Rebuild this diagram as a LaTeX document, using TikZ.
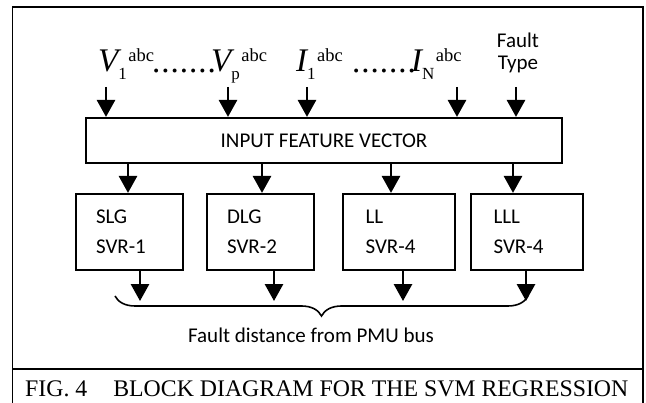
\documentclass[tikz,border=0pt]{standalone}
\usepackage{fontspec}
\setmainfont{Liberation Serif}
\newfontfamily\calibri{Carlito}
\usetikzlibrary{arrows.meta,decorations.pathreplacing,positioning}

% signal with phase superscript
\newcommand{\sig}[2]{{\fontsize{33}{33}\selectfont\itshape #1}\kern0pt\raisebox{-8pt}{\fontsize{17}{17}\selectfont #2}\kern1.5pt\raisebox{10pt}{\fontsize{18.5}{18.5}\selectfont abc}}
\newcommand{\dotrow}{.\kern1pt.\kern1pt.\kern1pt.\kern1pt.\kern1pt.\kern1pt.}

\tikzset{
  arr/.style={line width=2.8pt,-{Triangle[width=18pt,length=17pt]}},
  blk/.style={draw,line width=2.1pt,font=\calibri\fontsize{21}{30}\selectfont},
  svr/.style={blk,minimum height=76pt,text width=67pt,align=left,inner xsep=20pt,inner ysep=0pt},
  lbl/.style={anchor=base west,inner sep=0pt},
}

\begin{document}
\begin{tikzpicture}[x=1pt,y=-1pt]
\fill[white] (0,0) rectangle (646,403);
\useasboundingbox (0,0) rectangle (646,403);

% outer frame and caption line
\draw[line width=1.3pt] (12.5,403) -- (12.5,7) -- (643,7) -- (643,403);
\draw[line width=1.3pt] (12.5,369) -- (643,369);

% inputs
\node[lbl] (v1) at (98,72) {\sig{V}{1}};
\node[lbl,font=\fontsize{33}{33}\selectfont] (dots1) at (152,73) {\dotrow};
\node[lbl] (vp) at (211,72) {\sig{V}{p}};
\node[lbl] (i1) at (296,72) {\sig{I}{1}};
\node[lbl,font=\fontsize{33}{33}\selectfont] (dots2) at (352,73) {\dotrow};
\node[lbl] (iN) at (411,72) {\sig{I}{N}};
\node[anchor=base,inner sep=0pt,align=center,font=\calibri\fontsize{21}{22}\selectfont] (ftype) at (518,70) {Fault\\Type};

\node[blk,minimum width=476pt,minimum height=45pt] (ifv) at (324,140.5) {INPUT FEATURE VECTOR};

\foreach \x in {106,228,307,457,516} {
  \coordinate (top) at (\x,87);
  \draw[arr] (top) -- (top |- ifv.north);
}

% one regressor per fault type
\node[svr,minimum width=107pt] (slg) at (129.5,232) {SLG\\SVR-1};
\node[svr,minimum width=107pt] (dlg) at (260.5,232) {DLG\\SVR-2};
\node[svr,minimum width=112pt] (ll) at (399,232) {LL\\SVR-4};
\node[svr,minimum width=112pt] (lll) at (527,232) {LLL\\SVR-4};

\foreach \b/\dx in {slg/-1.5,dlg/1.5,ll/-8,lll/-14} {
  \coordinate (m) at ([xshift=\dx pt]\b.north);
  \draw[arr] (m |- ifv.south) -- (m);
}
\foreach \b/\dx in {slg/10.5,dlg/13.5,ll/4,lll/-1} {
  \coordinate (o) at ([xshift=\dx pt]\b.south);
  \draw[arr] (o) -- ++(0,30);
}

% output
\coordinate (bl) at (115,296);
\coordinate (br) at (528,296);
\draw[line width=1.6pt,decorate,decoration={brace,mirror,amplitude=20pt}] (bl) -- (br);
\node[anchor=base,inner sep=0pt,font=\calibri\fontsize{21}{21}\selectfont] (fdist) at (311,343) {Fault distance from PMU bus};

\node[anchor=base west,inner sep=0pt,font=\fontsize{23.8}{23.8}\selectfont] (cap) at (25,397) {FIG. 4\hspace{26pt}BLOCK DIAGRAM FOR THE SVM REGRESSION};
\end{tikzpicture}
\end{document}
